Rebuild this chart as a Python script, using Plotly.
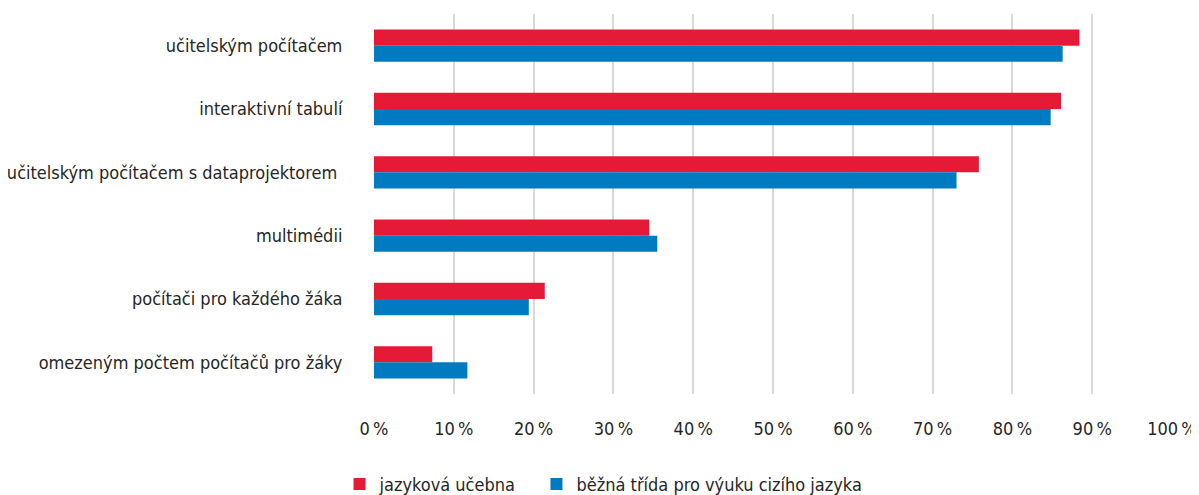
import plotly.graph_objects as go

categories = [
    "učitelským počítačem",
    "interaktivní tabulí",
    "učitelským počítačem s dataprojektorem ",
    "multimédii",
    "počítači pro každého žáka",
    "omezeným počtem počítačů pro žáky",
]
jazykova_ucebna = [88.4, 86.1, 75.8, 34.5, 21.4, 7.3]
bezna_trida = [86.3, 84.8, 73.0, 35.5, 19.4, 11.7]
tick_vals = [0, 10, 20, 30, 40, 50, 60, 70, 80, 90, 100]
tick_text = [f"{v}\u2009%" for v in tick_vals]

FONT = "DejaVu Sans Condensed, Liberation Sans Narrow, Roboto Condensed, Roboto, sans-serif"
TEXT_COLOR = "#262626"
FS = 18

fig = go.Figure()
fig.add_trace(go.Bar(
    y=categories, x=jazykova_ucebna, orientation="h",
    name="jazyková učebna", marker=dict(color="#E41A37", line=dict(width=0)),
    legend="legend",
))
fig.add_trace(go.Bar(
    y=categories, x=bezna_trida, orientation="h",
    name="běžná třída pro výuku cizího jazyka", marker=dict(color="#007BC2", line=dict(width=0)),
    legend="legend2",
))

legend_common = dict(
    orientation="h", xref="paper", xanchor="left",
    yref="container", y=0.022, yanchor="middle",
    font=dict(family=FONT, size=FS, color=TEXT_COLOR),
    itemwidth=30, tracegroupgap=0, bgcolor="rgba(0,0,0,0)",
)

fig.update_layout(
    width=1191, height=487,
    margin=dict(l=366, r=27, t=6, b=101, autoexpand=False),
    paper_bgcolor="white", plot_bgcolor="white",
    barmode="group", bargap=0.49, bargroupgap=0,
    font=dict(family=FONT, size=FS, color=TEXT_COLOR),
    showlegend=True,
    legend=dict(x=-0.0432, **legend_common),
    legend2=dict(x=0.2036, **legend_common),
)
fig.update_xaxes(
    range=[0, 100], tickvals=tick_vals, ticktext=tick_text,
    showgrid=True, gridcolor="#D9D9D9", gridwidth=1.5,
    zeroline=False, showline=False, automargin=False,
    ticks="outside", ticklen=18, tickcolor="rgba(0,0,0,0)",
    tickfont=dict(family=FONT, size=FS, color=TEXT_COLOR),
    fixedrange=True,
)
fig.update_yaxes(
    autorange="reversed", showgrid=False, zeroline=False, showline=False,
    automargin=False,
    ticks="outside", ticklen=27, tickcolor="rgba(0,0,0,0)",
    tickfont=dict(family=FONT, size=FS, color=TEXT_COLOR),
    fixedrange=True,
)

fig.write_html("out.html", config={"displayModeBar": False})
